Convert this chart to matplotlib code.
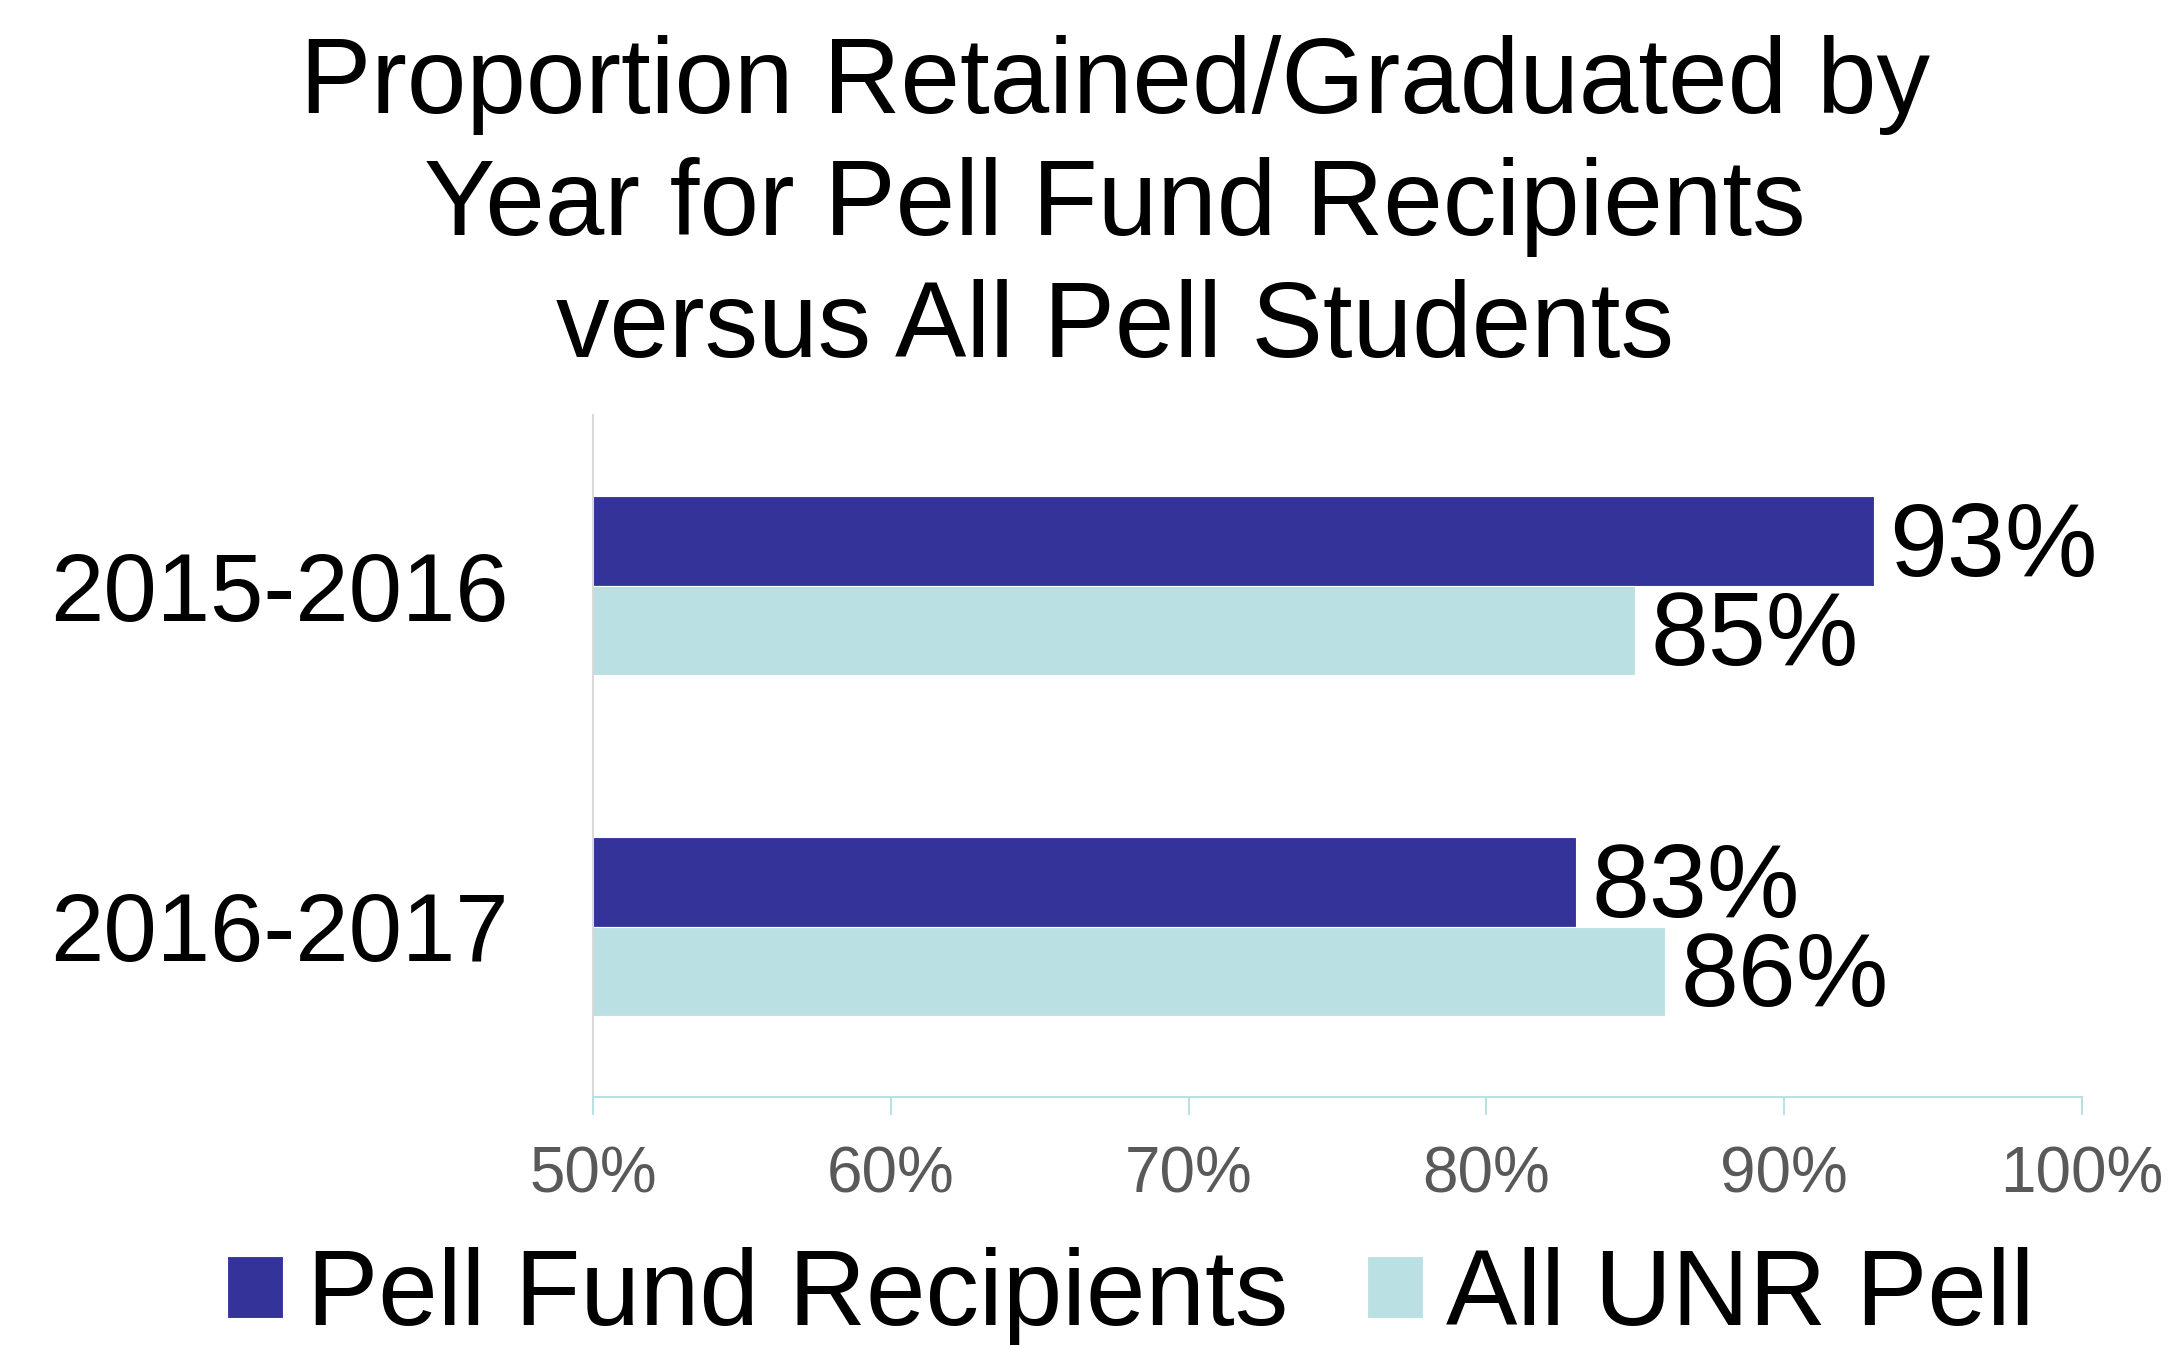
import matplotlib
matplotlib.use("Agg")
import matplotlib.pyplot as plt
import numpy as np

categories = ["2015-2016", "2016-2017"]
series_names = ["Pell Fund Recipients", "All UNR Pell"]
pell_fund = [93, 83]
all_unr = [85, 86]
xticks = [50, 60, 70, 80, 90, 100]
xtick_labels = ["50%", "60%", "70%", "80%", "90%", "100%"]
title_lines = ["Proportion Retained/Graduated by",
               "Year for Pell Fund Recipients",
               "versus All Pell Students"]

plt.rcParams['font.family'] = ['Liberation Sans', 'DejaVu Sans']

W, H = 2172, 1345
fig = plt.figure(figsize=(W/100, H/100), dpi=100)
ax = fig.add_axes([593/W, 1 - 1097/H, (2082-593)/W, (1097-415)/H])

dark = "#333399"
light = "#BBE0E3"
bh = 0.262
y = np.arange(len(categories))
b1 = ax.barh(y - bh/2, pell_fund, height=bh, left=0, color=dark, label=series_names[0],
             edgecolor="white", linewidth=0.8)
b2 = ax.barh(y + bh/2, all_unr, height=bh, left=0, color=light, label=series_names[1],
             edgecolor="white", linewidth=0.8)

for bars, vals in ((b1, pell_fund), (b2, all_unr)):
    for rect, v in zip(bars, vals):
        ax.annotate(f"{v}%", xy=(rect.get_width(), rect.get_y() + rect.get_height()/2),
                    xytext=(11, -6), textcoords="offset points",
                    ha="left", va="center", fontsize=75, color="black",
                    annotation_clip=False)

ax.set_xlim(50, 100)
ax.set_ylim(1.5, -0.5)
ax.set_yticks(y)
ax.set_yticklabels(categories, fontsize=69)
ax.set_xticks(xticks)
ax.set_xticklabels(xtick_labels, fontsize=46, color="#595959")
ax.tick_params(axis='y', length=0, pad=61)
ax.tick_params(axis='x', length=13, width=1.5, color="#BBE0E3", pad=22)

for s in ["top", "right"]:
    ax.spines[s].set_visible(False)
ax.spines["left"].set_color("#D9D9D9")
ax.spines["left"].set_linewidth(1.5)
ax.spines["bottom"].set_color("#BBE0E3")
ax.spines["bottom"].set_linewidth(1.5)

for i, line in enumerate(title_lines):
    fig.text(1115/W, 1 - (85 + 122*i)/H, line, ha="center", va="center", fontsize=77)

fig.legend(handles=[b1, b2], labels=series_names, loc="center",
           bbox_to_anchor=(1131/W, 1 - 1297/H), ncol=2, frameon=False,
           fontsize=77, handlelength=0.52, handleheight=0.52,
           handletextpad=0.22, columnspacing=0.74, borderpad=0)

fig.savefig("out.png", dpi=100)
